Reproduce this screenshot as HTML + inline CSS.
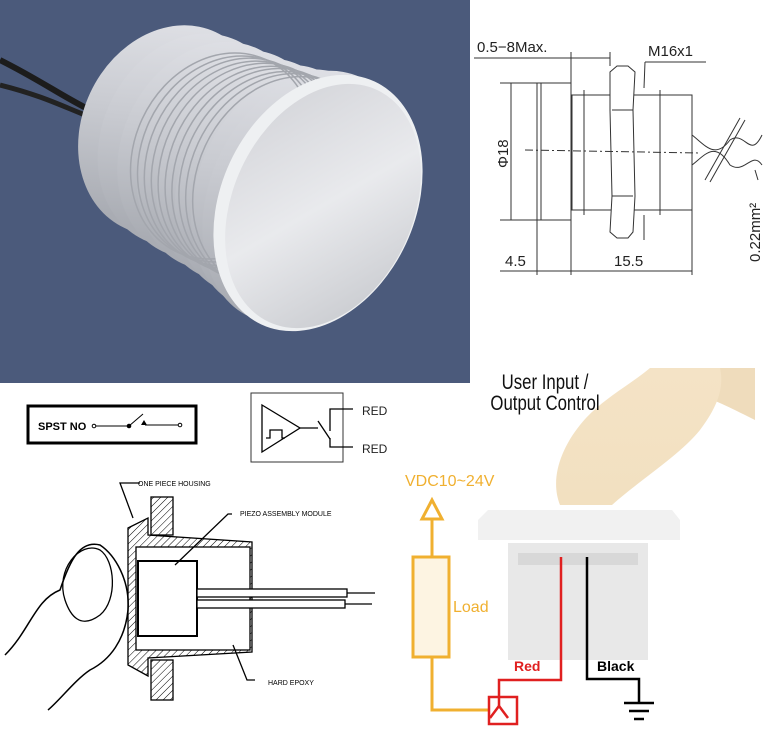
<!DOCTYPE html>
<html><head><meta charset="utf-8"><style>
html,body{margin:0;padding:0;background:#fff;}
svg{display:block;font-family:"Liberation Sans",sans-serif;}
</style></head><body>
<svg width="766" height="734" viewBox="0 0 766 734" xmlns="http://www.w3.org/2000/svg">
<defs>
<linearGradient id="bodyG" x1="0" y1="0" x2="0.3" y2="1">
<stop offset="0" stop-color="#e4e5ea"/><stop offset="0.5" stop-color="#c9cbd1"/><stop offset="1" stop-color="#a9acb3"/></linearGradient>
<linearGradient id="faceG" x1="0" y1="0" x2="1" y2="1">
<stop offset="0" stop-color="#d0d1d6"/><stop offset="0.5" stop-color="#e9eaed"/><stop offset="1" stop-color="#c2c4c9"/></linearGradient>
<pattern id="hatch" width="5" height="5" patternUnits="userSpaceOnUse" patternTransform="rotate(45)"><line x1="0" y1="0" x2="0" y2="5" stroke="#000" stroke-width="1"/></pattern>
<linearGradient id="fing" x1="0" y1="0" x2="0" y2="1"><stop offset="0" stop-color="#f4e3c6"/><stop offset="1" stop-color="#f2e0c0"/></linearGradient>
<clipPath id="bodyClip">
<ellipse cx="170" cy="130" rx="88" ry="108" transform="rotate(25 170 130)"/>
<ellipse cx="210" cy="150" rx="88" ry="112" transform="rotate(25 210 150)"/>
<ellipse cx="250" cy="170" rx="88" ry="116" transform="rotate(25 250 170)"/>
<ellipse cx="290" cy="190" rx="92" ry="126" transform="rotate(25 290 190)"/>
</clipPath>
</defs>
<!-- photo -->
<rect x="0" y="0" width="470" height="383" fill="#4b5a7b"/>
<path d="M0,60 C40,80 60,95 90,110" stroke="#1c1c1c" stroke-width="6" fill="none"/>
<path d="M0,85 C40,95 60,105 85,115" stroke="#222" stroke-width="5" fill="none"/>
<g fill="url(#bodyG)">
<ellipse cx="170" cy="130" rx="88" ry="108" transform="rotate(25 170 130)"/>
<ellipse cx="190" cy="140" rx="88" ry="110" transform="rotate(25 190 140)"/>
<ellipse cx="210" cy="150" rx="88" ry="112" transform="rotate(25 210 150)"/>
<ellipse cx="230" cy="160" rx="88" ry="114" transform="rotate(25 230 160)"/>
<ellipse cx="250" cy="170" rx="88" ry="116" transform="rotate(25 250 170)"/>
<ellipse cx="270" cy="180" rx="89" ry="120" transform="rotate(25 270 180)"/>
<ellipse cx="290" cy="190" rx="92" ry="126" transform="rotate(25 290 190)"/>
<ellipse cx="305" cy="197" rx="95" ry="132" transform="rotate(25 305 197)"/>
</g>
<g stroke="#a3a6ad" stroke-width="1.5" fill="none" clip-path="url(#bodyClip)">
<ellipse cx="222" cy="156" rx="88" ry="106" transform="rotate(25 222 156)"/>
<ellipse cx="229" cy="159" rx="88" ry="106" transform="rotate(25 229 159)"/>
<ellipse cx="236" cy="162" rx="88" ry="107" transform="rotate(25 236 162)"/>
<ellipse cx="243" cy="165" rx="88" ry="107" transform="rotate(25 243 165)"/>
<ellipse cx="250" cy="168" rx="88" ry="108" transform="rotate(25 250 168)"/>
<ellipse cx="257" cy="171" rx="88" ry="108" transform="rotate(25 257 171)"/>
<ellipse cx="264" cy="174" rx="88" ry="109" transform="rotate(25 264 174)"/>
<ellipse cx="271" cy="177" rx="88" ry="109" transform="rotate(25 271 177)"/>
<ellipse cx="278" cy="180" rx="88" ry="110" transform="rotate(25 278 180)"/>
<ellipse cx="285" cy="183" rx="88" ry="110" transform="rotate(25 285 183)"/>
</g>
<ellipse cx="318" cy="203" rx="97" ry="134" transform="rotate(25 318 203)" fill="#eef0f2"/>
<ellipse cx="323" cy="206" rx="90" ry="128" transform="rotate(25 323 206)" fill="url(#faceG)"/>
<!-- technical drawing -->
<g stroke="#333" stroke-width="1" fill="none">
<line x1="474" y1="58" x2="610" y2="58"/><line x1="571" y1="52" x2="571" y2="275"/><line x1="610" y1="52" x2="610" y2="66"/>
<rect x="537" y="83" width="34" height="137" fill="#fff"/><line x1="541" y1="83" x2="541" y2="220"/>
<rect x="572" y="95" width="120" height="115"/><line x1="584" y1="90" x2="584" y2="215"/><line x1="660" y1="90" x2="660" y2="215"/>
<path d="M610,72 L617,66 L628,66 L635,72 L633,110 L635,196 L633,232 L628,238 L617,238 L610,232 L612,196 L610,110 Z" fill="#fff"/>
<line x1="612" y1="110" x2="633" y2="110"/><line x1="612" y1="196" x2="633" y2="196"/>
<line x1="500" y1="83" x2="537" y2="83"/><line x1="500" y1="220" x2="537" y2="220"/><line x1="511" y1="83" x2="511" y2="220"/>
<line x1="525" y1="150" x2="700" y2="153" stroke-dasharray="8,3,2,3"/>
<line x1="537" y1="220" x2="537" y2="275"/><line x1="692" y1="210" x2="692" y2="275"/>
<line x1="500" y1="271" x2="692" y2="271"/>
<line x1="645" y1="62" x2="706" y2="62"/><line x1="645" y1="62" x2="644" y2="88"/><line x1="644" y1="215" x2="644" y2="240"/>
<path d="M692,135 C705,145 715,160 730,140 C745,130 750,160 762,135"/><path d="M692,165 C705,155 715,140 730,165 C745,175 752,150 762,165"/>
<line x1="705" y1="180" x2="740" y2="118"/><line x1="710" y1="182" x2="745" y2="120"/>
<path d="M755,170 L758,180"/>
</g>
<g font-size="15" fill="#222">
<text x="477" y="52">0.5−8Max.</text><text x="648" y="56">M16x1</text>
<text x="505" y="266">4.5</text><text x="614" y="266">15.5</text>
<text transform="translate(508,168) rotate(-90)">Φ18</text>
<text transform="translate(760,262) rotate(-90)">0.22mm²</text>
</g>
<!-- SPST -->
<rect x="28" y="406" width="168" height="37" fill="#fff" stroke="#000" stroke-width="3"/>
<text x="38" y="430" font-size="11" font-weight="bold">SPST NO</text>
<g stroke="#000" stroke-width="1" fill="#fff"><circle cx="94" cy="426" r="1.8"/><line x1="96" y1="426" x2="129" y2="426"/><line x1="129" y1="426" x2="143" y2="414"/><line x1="145" y1="425" x2="178" y2="425"/><circle cx="180" cy="425" r="1.8"/></g>
<circle cx="129" cy="426" r="2.3" fill="#000"/><path d="M141,425 L144,420 L147,425Z" fill="#000"/>
<rect x="251" y="393" width="92" height="69" fill="#fff" stroke="#333" stroke-width="1"/>
<g stroke="#000" stroke-width="1.3" fill="none">
<path d="M262,405 L300,428 L262,452 Z"/><path d="M266,438 L270,438 L270,430 L282,430 L282,438 L285,438"/>
<line x1="300" y1="428" x2="318" y2="428"/><line x1="318" y1="421" x2="330" y2="439"/>
<path d="M330,431 L330,409 L353,409"/><path d="M330,438 L330,447 L353,447"/>
</g>
<text x="362" y="415" font-size="12" fill="#222">RED</text><text x="362" y="453" font-size="12" fill="#222">RED</text>
<!-- cross section -->
<g stroke="#000" stroke-width="1.3" fill="none">
<path d="M128,528 L148,518 L148,535 L252,542 L252,652 L148,658 L148,676 L128,665 Z" fill="url(#hatch)"/>
<rect x="136" y="547" width="114" height="103" fill="#fff"/>
<rect x="151" y="497" width="22" height="38" fill="url(#hatch)"/><rect x="151" y="660" width="22" height="40" fill="url(#hatch)"/>
<rect x="138" y="561" width="59" height="75" fill="#fff" stroke-width="2"/>
<rect x="197" y="589" width="150" height="8" fill="#fff"/><rect x="197" y="600" width="148" height="8" fill="#fff"/>
<line x1="347" y1="593" x2="375" y2="593"/><line x1="345" y1="604" x2="372" y2="604"/>
<path d="M140,483 L120,483 L133,518"/><path d="M232,514 L228,514 L175,565"/><path d="M233,645 L247,680 L255,680"/>
<path d="M5,655 C30,630 35,600 60,590 C70,560 80,540 100,545 C115,555 130,580 128,610 C125,640 110,660 90,670 C75,680 60,700 48,710" stroke-width="1.5"/>
<path d="M65,600 C55,570 80,540 100,550 C115,560 118,600 100,615 C80,630 70,615 65,600"/>
</g>
<g font-size="7" fill="#000"><text x="138" y="486">ONE PIECE HOUSING</text><text x="240" y="516">PIEZO ASSEMBLY MODULE</text><text x="268" y="685">HARD EPOXY</text></g>
<!-- right illustration -->
<path d="M690,368 L755,368 L755,420 C735,410 715,400 700,395 Z" fill="#efdcbc"/>
<path d="M650,368 L720,368 C725,390 715,410 700,430 C680,455 640,480 612,505 L560,505 C550,480 560,450 580,425 C600,400 630,385 650,368 Z" fill="url(#fing)"/>
<path d="M478,520 L488,510 L672,510 L680,520 L680,540 L478,540 Z" fill="#f1f1f1"/>
<rect x="508" y="543" width="140" height="117" fill="#e8e8e8"/>
<rect x="518" y="553" width="120" height="12" fill="#d8d8d8"/>
<g text-anchor="middle" font-size="21" fill="#111"><text x="545" y="389" transform="scale(0.8,1)" transform-origin="545 389" style="transform-box:view-box">User Input /</text><text x="545" y="410" transform="scale(0.8,1)" transform-origin="545 410" style="transform-box:view-box">Output Control</text></g>
<g stroke="#f0b030" stroke-width="3" fill="none">
<path d="M432,500 L422,519 L442,519 Z"/><line x1="432" y1="519" x2="432" y2="557"/>
<rect x="413" y="557" width="36" height="100" fill="#fdf4e2"/><path d="M432,657 L432,710 L490,710"/>
</g>
<text x="405" y="486" font-size="16" fill="#f0b030">VDC10~24V</text>
<text x="453" y="612" font-size="16" fill="#f0b030">Load</text>
<g stroke="#e02020" stroke-width="2.5" fill="none"><rect x="489" y="697" width="28" height="27"/><path d="M490,718 L499,706 L508,718"/><path d="M499,706 L499,680 L561,680 L561,557"/></g>
<text x="514" y="671" font-size="14" fill="#e02020" font-weight="bold">Red</text>
<g stroke="#000" stroke-width="2.5" fill="none"><path d="M587,557 L587,679 L639,679 L639,702"/><line x1="624" y1="703" x2="654" y2="703"/><line x1="629" y1="711" x2="649" y2="711"/><line x1="634" y1="719" x2="644" y2="719"/></g>
<text x="597" y="671" font-size="14" fill="#000" font-weight="bold">Black</text>
</svg>
</body></html>
